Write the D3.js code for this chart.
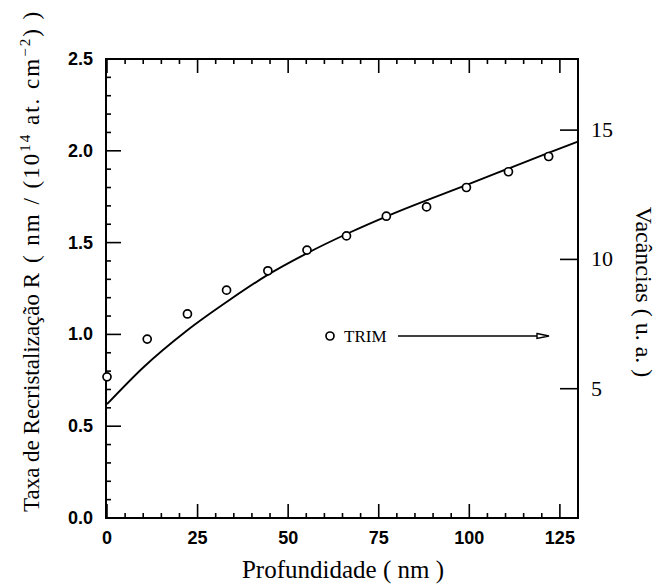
<!DOCTYPE html>
<html><head><meta charset="utf-8">
<script src="https://cdn.jsdelivr.net/npm/d3@7"></script>
<style>body{margin:0;background:#fff}svg{display:block}</style>
</head><body>
<script>
// TRIM vacancy points (right axis, u. a.)
const trimDepth = [0, 11.1, 22.2, 33.0, 44.4, 55.2, 66.1, 77.1, 88.2, 99.2, 110.8, 121.9];
const trimVac = [5.46, 6.92, 7.89, 8.81, 9.56, 10.36, 10.91, 11.67, 12.03, 12.78, 13.39, 13.98];
// Recrystallization rate curve (left axis)
const curveDepth = [0, 10, 22, 34, 44, 55, 67, 78, 100, 122, 130];
const curveRate = [0.62, 0.82, 1.02, 1.19, 1.32, 1.44, 1.555, 1.65, 1.82, 1.99, 2.05];
const xTicks = [0, 25, 50, 75, 100, 125];
const yLeftTicks = [0.0, 0.5, 1.0, 1.5, 2.0, 2.5];
const yRightTicks = [5, 10, 15];

const W = 659, H = 586;
const L = 106, R = 578, T = 59, B = 518;
const svg = d3.select("body").append("svg").attr("width", W).attr("height", H);

const x = d3.scaleLinear().domain([0, 130]).range([107, 578]);
const yL = d3.scaleLinear().domain([0, 2.5]).range([B, T]);
const yR = d3.scaleLinear().domain([0, 17.75]).range([B, T]);

const sans = "'Liberation Sans', Arial, sans-serif";
const serif = "'Liberation Serif', 'Times New Roman', serif";

// frame
svg.append("rect").attr("x", L).attr("y", T).attr("width", R - L).attr("height", B - T)
  .attr("fill", "none").attr("stroke", "#000").attr("stroke-width", 2);

const g = svg.append("g").attr("stroke", "#000").attr("stroke-width", 1.6);
d3.range(0, 131, 5).forEach(v => {
  const major = v % 25 === 0, len = major ? 14 : 5;
  g.append("line").attr("x1", x(v)).attr("x2", x(v)).attr("y1", B).attr("y2", B - len);
  g.append("line").attr("x1", x(v)).attr("x2", x(v)).attr("y1", T).attr("y2", T + len);
});
d3.range(0, 26).forEach(i => {
  const v = i / 10, major = i % 5 === 0, len = major ? 15 : 5;
  g.append("line").attr("x1", L).attr("x2", L + len).attr("y1", yL(v)).attr("y2", yL(v));
});
yRightTicks.forEach(v => {
  g.append("line").attr("x1", R).attr("x2", R - 18).attr("y1", yR(v)).attr("y2", yR(v));
});

// tick labels
svg.append("g").selectAll("text").data(xTicks).join("text")
  .attr("x", d => x(d)).attr("y", 544).attr("text-anchor", "middle")
  .attr("font-family", sans).attr("font-weight", "bold").attr("font-size", 18).text(d => d);
svg.append("g").selectAll("text").data(yLeftTicks).join("text")
  .attr("x", 93).attr("y", d => yL(d) + 6).attr("text-anchor", "end")
  .attr("font-family", sans).attr("font-weight", "bold").attr("font-size", 18).text(d => d.toFixed(1));
svg.append("g").selectAll("text").data(yRightTicks).join("text")
  .attr("x", 591).attr("y", d => yR(d) + 7).attr("text-anchor", "start")
  .attr("font-family", serif).attr("font-size", 22).text(d => d);

// curve
const line = d3.line().x((d, i) => x(curveDepth[i])).y(d => yL(d)).curve(d3.curveMonotoneX);
svg.append("path").attr("d", line(curveRate)).attr("fill", "none")
  .attr("stroke", "#000").attr("stroke-width", 1.9);

// TRIM points
svg.append("g").selectAll("circle").data(trimVac).join("circle")
  .attr("cx", (d, i) => x(trimDepth[i])).attr("cy", d => yR(d)).attr("r", 4)
  .attr("fill", "#fff").attr("stroke", "#000").attr("stroke-width", 1.7);

// legend
const ly = 336;
svg.append("circle").attr("cx", 330).attr("cy", ly).attr("r", 4)
  .attr("fill", "#fff").attr("stroke", "#000").attr("stroke-width", 1.7);
svg.append("text").attr("x", 344).attr("y", ly + 6).attr("font-family", serif)
  .attr("font-size", 17).text("TRIM");
svg.append("line").attr("x1", 398).attr("x2", 538).attr("y1", ly).attr("y2", ly)
  .attr("stroke", "#000").attr("stroke-width", 1.6);
svg.append("path").attr("d", `M537,${ly - 2.5} L549,${ly} L537,${ly + 2.5} Z`)
  .attr("fill", "#fff").attr("stroke", "#000").attr("stroke-width", 1.4);

// axis titles
svg.append("text").attr("x", 343).attr("y", 578).attr("text-anchor", "middle")
  .attr("font-family", serif).attr("font-size", 25).text("Profundidade ( nm )");

const lt = svg.append("text").attr("transform", "translate(39,512) rotate(-90)")
  .attr("text-anchor", "start").attr("font-family", serif).attr("font-size", 23);
lt.append("tspan").text("Taxa de Recristalização ");
const ls = 2;
lt.append("tspan").attr("letter-spacing", ls).text("R ( nm / (10");
lt.append("tspan").attr("dy", -9).attr("font-size", 15).attr("letter-spacing", ls).text("14");
lt.append("tspan").attr("dy", 9).attr("letter-spacing", ls).text(" at. cm");
lt.append("tspan").attr("dy", -9).attr("font-size", 15).attr("letter-spacing", ls).text("−2");
lt.append("tspan").attr("dy", 9).attr("letter-spacing", ls).text(") )");

svg.append("text").attr("transform", "translate(636,292) rotate(90)")
  .attr("text-anchor", "middle").attr("font-family", serif).attr("font-size", 24)
  .text("Vacâncias ( u. a. )");
</script>
</body></html>
